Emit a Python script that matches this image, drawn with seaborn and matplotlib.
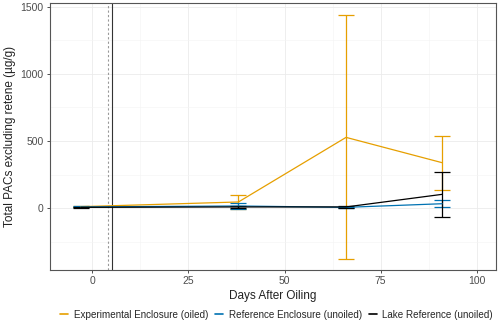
import matplotlib
matplotlib.use("Agg")
import matplotlib.pyplot as plt
import seaborn as sns
import pandas as pd
from matplotlib.ticker import MultipleLocator
from matplotlib.lines import Line2D

# Data
groups = ["Experimental Enclosure (oiled)", "Reference Enclosure (unoiled)",
          "Lake Reference (unoiled)"]
days = [-3, 38, 66, 91]
exp_mean = [10, 45, 527, 338]
exp_err = [5, 50, 910, 200]
ref_mean = [8, 15, 5, 32]
ref_err = [4, 20, 5, 28]
lake_mean = [5, 8, 8, 102]
lake_err = [3, 5, 6, 168]

COLORS = {groups[0]: "#E69F00", groups[1]: "#0072B2", groups[2]: "#000000"}

df = pd.concat([
    pd.DataFrame({"day": days, "pac": exp_mean, "err": exp_err, "group": groups[0]}),
    pd.DataFrame({"day": days, "pac": ref_mean, "err": ref_err, "group": groups[1]}),
    pd.DataFrame({"day": days, "pac": lake_mean, "err": lake_err, "group": groups[2]}),
])

sns.set_theme(style="white")
plt.rcParams["font.family"] = ["Liberation Sans", "DejaVu Sans"]

fig = plt.figure(figsize=(4.98, 3.25), dpi=100)
ax = fig.add_axes([0.1004, 0.169, 0.8956, 0.822])

# grid like ggplot theme_bw
ax.xaxis.set_major_locator(MultipleLocator(25))
ax.xaxis.set_minor_locator(MultipleLocator(12.5))
ax.yaxis.set_major_locator(MultipleLocator(500))
ax.yaxis.set_minor_locator(MultipleLocator(250))
ax.grid(which="major", color="#EBEBEB", linewidth=0.6)
ax.grid(which="minor", color="#F4F4F4", linewidth=0.4)
ax.set_axisbelow(True)

ax.axvline(4, color="#999999", linestyle=(0, (2, 2)), linewidth=0.8)
ax.axvline(5, color="#333333", linewidth=0.8)

for g in groups:
    sub = df[df["group"] == g]
    ax.errorbar(sub["day"], sub["pac"], yerr=sub["err"], fmt="none",
                ecolor=COLORS[g], elinewidth=0.9, capsize=5.8, capthick=0.9)

sns.lineplot(data=df, x="day", y="pac", hue="group", hue_order=groups,
             palette=COLORS, linewidth=0.9, ax=ax, legend=False)

ax.set_xlim(-11, 105)
ax.set_ylim(-463, 1530)
ax.set_xlabel("Days After Oiling", fontsize=8.5, color="#222222", labelpad=3)
ax.set_ylabel("Total PACs excluding retene (\u00b5g/g)", fontsize=8.5,
              color="#222222", labelpad=3)
ax.tick_params(axis="both", which="major", labelsize=7.5, labelcolor="#4D4D4D",
               length=2.5, width=0.6, color="#333333", pad=2, bottom=True, left=True)
ax.tick_params(which="minor", length=0)
for s in ax.spines.values():
    s.set_color("#555555")
    s.set_linewidth(0.8)

handles = [Line2D([0], [0], color=COLORS[g], linewidth=1.2) for g in groups]
fig.legend(handles, groups, loc="center", bbox_to_anchor=(0.555, 0.032), ncol=3,
           frameon=False, fontsize=7.1, handlelength=0.8, handletextpad=0.6,
           columnspacing=0.7, borderpad=0, borderaxespad=0)

fig.savefig("out.png", dpi=100)
